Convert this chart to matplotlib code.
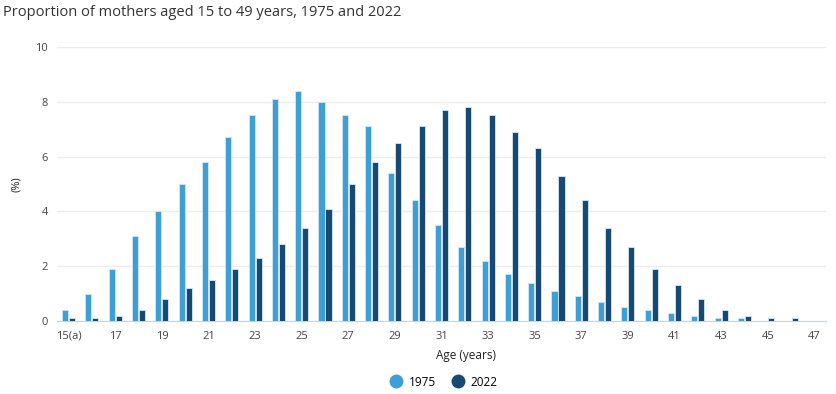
import matplotlib
matplotlib.use("Agg")
import matplotlib.pyplot as plt
import numpy as np
from matplotlib.lines import Line2D

plt.rcParams['font.family'] = ['Open Sans', 'DejaVu Sans']

ages = [str(a) for a in range(15, 48)]
ages[0] = "15(a)"
v1975 = [0.4, 1.0, 1.9, 3.1, 4.0, 5.0, 5.8, 6.7, 7.5, 8.1, 8.4, 8.0, 7.5, 7.1, 5.4,
         4.4, 3.5, 2.7, 2.2, 1.7, 1.4, 1.1, 0.9, 0.7, 0.5, 0.4, 0.3, 0.2, 0.1, 0.1,
         0.0, 0.0, 0.0]
v2022 = [0.1, 0.1, 0.2, 0.4, 0.8, 1.2, 1.5, 1.9, 2.3, 2.8, 3.4, 4.1, 5.0, 5.8, 6.5,
         7.1, 7.7, 7.8, 7.5, 6.9, 6.3, 5.3, 4.4, 3.4, 2.7, 1.9, 1.3, 0.8, 0.4, 0.2,
         0.1, 0.1, 0.0]
series_names = ["1975", "2022"]
colors = ["#3e9fd6", "#164a73"]

fig = plt.figure(figsize=(8.36, 3.94), dpi=100)
ax = fig.add_axes([57/836, 1 - 321/394, (826-57)/836, (321-47)/394])

x = np.arange(len(ages))
w = 0.26
ax.bar(x - 0.15, v1975, width=w, color=colors[0], edgecolor="#d8e6f0", linewidth=0.6, zorder=3)
ax.bar(x + 0.15, v2022, width=w, color=colors[1], edgecolor="#d8e6f0", linewidth=0.6, zorder=3)

ax.set_xlim(-0.5, len(ages) - 0.5)
ax.set_ylim(0, 10)
ax.set_yticks([0, 2, 4, 6, 8, 10])
ax.set_xticks(x[::2])
ax.set_xticklabels(ages[::2])
ax.grid(axis='y', color="#ececec", linewidth=1, zorder=0)
for s in ["top", "right", "left"]:
    ax.spines[s].set_visible(False)
ax.spines["bottom"].set_color("#c8d3e0")
ax.tick_params(axis='both', length=0, labelsize=8, colors="#444444")
ax.tick_params(axis='x', pad=7)
ax.tick_params(axis='y', pad=6.5)

ax.set_ylabel("(%)", fontsize=8, color="#222222")
ax.yaxis.set_label_coords(-35/769, 0.5)
ax.set_xlabel("Age (years)", fontsize=8.5, color="#222222")
ax.xaxis.set_label_coords((466-57)/769, -28/274)

fig.text(3/836, 1 - 12/394, "Proportion of mothers aged 15 to 49 years, 1975 and 2022",
         fontsize=10.5, color="#333333", va="center", ha="left")

handles = [Line2D([0], [0], marker='o', linestyle='none', markersize=9,
                  markerfacecolor=c, markeredgecolor=c) for c in colors]
fig.legend(handles, series_names, loc="center", bbox_to_anchor=(441/836, 1 - 382/394),
           ncol=2, frameon=False, fontsize=8.5, handletextpad=0.1, columnspacing=0.8)

fig.savefig("out.png", dpi=100)
